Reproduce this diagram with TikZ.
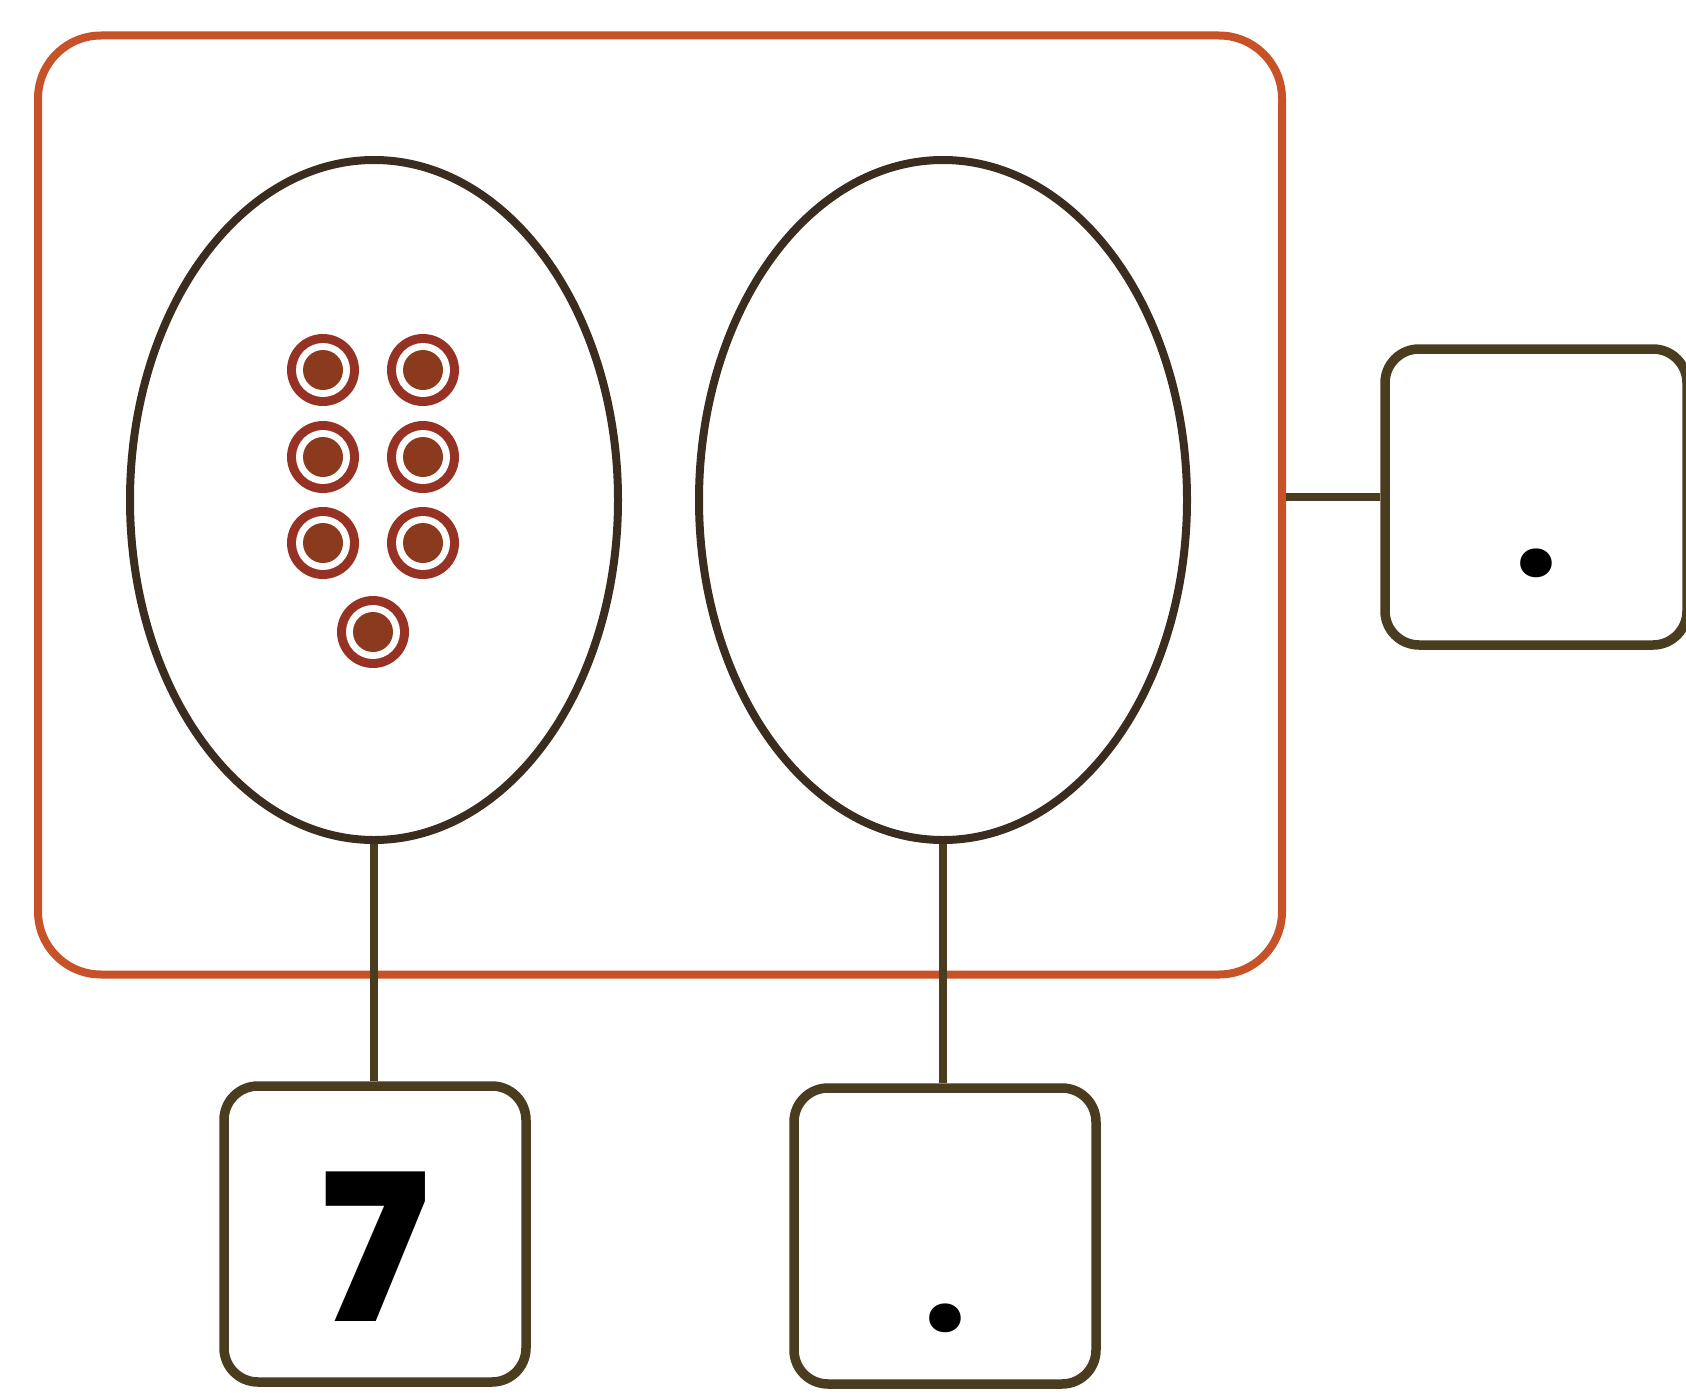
\documentclass[tikz,border=0pt]{standalone}
\usepackage{fontspec}
\setmainfont{Liberation Sans}
\newfontfamily\numfont{Poppins}[UprightFont=* ExtraBold]
\newfontfamily\dotfont{Poppins}[UprightFont=* Bold]
\usetikzlibrary{shapes.geometric}
\definecolor{framecol}{RGB}{200,82,40}
\definecolor{ovalcol}{RGB}{58,44,30}
\definecolor{boxcol}{RGB}{74,60,30}
\definecolor{cntcol}{RGB}{140,58,30}
\definecolor{ringcol}{RGB}{150,50,35}
\tikzset{
  frame/.style={draw=framecol, line width=8pt, rounded corners=63pt, minimum width=1244pt, minimum height=939pt, inner sep=0pt},
  oval/.style={ellipse, draw=ovalcol, line width=8pt, minimum width=488pt, minimum height=680pt, inner sep=0pt},
  numbox/.style={draw=boxcol, line width=9.5pt, rounded corners=34pt, minimum width=302pt, minimum height=296pt, inner sep=0pt,
    text height=174pt, text depth=0pt, font=\numfont\fontsize{205}{205}\selectfont},
  dotbox/.style={numbox, font=\dotfont\fontsize{155}{155}\selectfont},
  link/.style={draw=boxcol, line width=8.5pt},
  counter/.pic={
    \fill[ringcol] (0,0) circle (36pt);
    \fill[white] (0,0) circle (27pt);
    \fill[cntcol] (0,0) circle (20pt);
  }
}
\begin{document}
\begin{tikzpicture}[x=1pt,y=-1pt]
\useasboundingbox (0,0) rectangle (1686,1394);
\node[frame] (outer) at (660,505) {};
\node[oval] (left) at (374,500) {};
\node[oval] (right) at (943,500) {};
\node[numbox] (b7) at (375,1234) {7};
\node[dotbox, text height=190pt] (bmid) at (945,1236) {.};
\node[dotbox, text height=158pt] (bright) at (1536,497) {.};
\draw[link] (left.south) -- (left.south |- b7.north);
\draw[link] (right.south) -- (right.south |- bmid.north);
\draw[link] (bright.west -| outer.east) -- (bright.west);
\foreach \p/\q in {323/370,423/370,323/457,423/457,323/543,423/543,373/632}
  \pic at (\p,\q) {counter};
\end{tikzpicture}
\end{document}
